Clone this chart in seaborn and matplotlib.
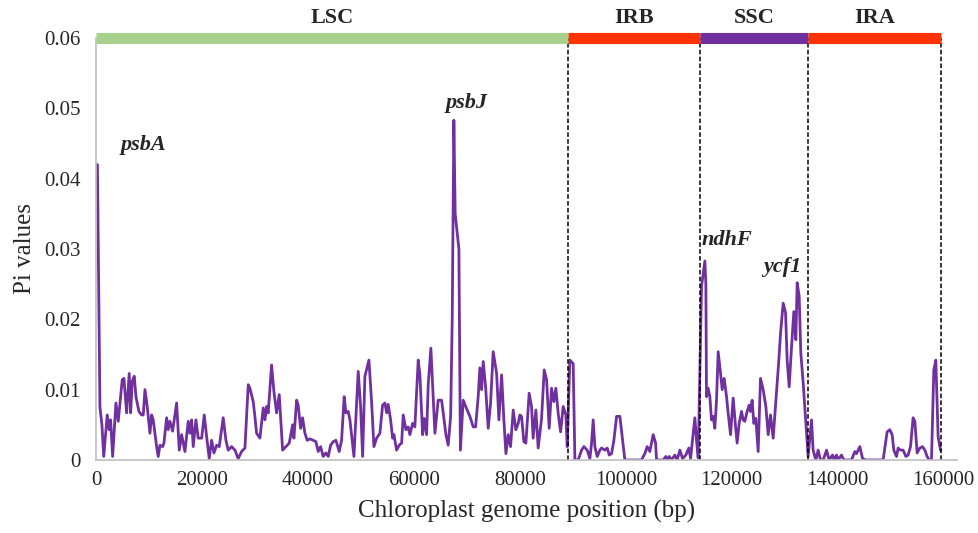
import numpy as np
import pandas as pd
import matplotlib
matplotlib.use("Agg")
import matplotlib.pyplot as plt
import seaborn as sns

# sliding window positions (bp) and nucleotide diversity
position = [280, 755, 1130, 1470, 2130, 2510, 2770, 3150, 3770, 4210,
            4960, 5280, 5790, 6280, 6550, 6850, 7230, 7550, 8110, 8620,
            8930, 9250, 9680, 10190, 10510, 10810, 11450, 11760, 12080, 12590,
            12830, 13340, 13640, 13960, 14470, 15230, 15720, 16170, 16790, 17420,
            17740, 18060, 18360, 18870, 19300, 19950, 20440, 20890, 21380, 21830,
            22270, 22780, 23270, 24020, 24530, 24960, 25610, 26230, 26850, 27490,
            28120, 28740, 29060, 29680, 30000, 30320, 30950, 31570, 31890, 32210,
            32510, 33150, 33590, 34100, 34590, 35230, 35850, 36480, 37120, 37360,
            37870, 38170, 38630, 39000, 39440, 39870, 40380, 41000, 41510, 41950,
            42400, 42890, 43400, 43840, 44290, 44780, 45290, 45910, 46360, 46850,
            47170, 47610, 47930, 48360, 48690, 49500, 49950, 50330, 50760, 51520,
            52020, 52460, 52970, 53590, 54100, 54540, 54860, 55160, 55610, 55990,
            56240, 56740, 57230, 57690, 57990, 58500, 58930, 59250, 59760, 60190,
            60820, 61140, 61650, 61950, 62400, 62710, 63210, 63650, 63970, 64590,
            65230, 65540, 66050, 66480, 66940, 67240, 67550, 67800, 68500, 68780,
            69310, 69950, 70570, 71200, 71650, 72140, 72460, 72780, 73090, 73540,
            74030, 74480, 74970, 75620, 76050, 76560, 76990, 77370, 77810, 78250,
            78750, 79250, 79690, 80010, 80330, 80760, 81140, 81760, 82210, 82510,
            83030, 83460, 84100, 84600, 85050, 85540, 85990, 86420, 86800, 87240,
            87690, 88180, 88690, 88940, 89440, 90070, 90390, 91010, 91650, 92090,
            92710, 93220, 93540, 93840, 94160, 94600, 95110, 95430, 96050, 96490,
            96870, 97310, 97750, 98260, 98880, 99390, 99820, 102960, 103590, 104030,
            104540, 105160, 105620, 105800, 107060, 107560, 107810, 108190, 108630, 109260,
            109690, 110200, 110710, 111330, 111900, 112220, 112590, 113030, 113350, 113660,
            114290, 114920, 115110, 115230, 115540, 115860, 116170, 116480, 116800, 117120,
            117430, 117880, 118190, 118560, 119010, 119320, 119770, 120260, 120710, 121010,
            121390, 121840, 122150, 122460, 122900, 123280, 123540, 123840, 124160, 124540,
            124980, 125420, 125920, 126430, 126870, 127310, 127810, 128450, 128880, 129200,
            129700, 130150, 130450, 130830, 131280, 131710, 132090, 132340, 132720, 133030,
            133470, 133980, 134410, 135050, 135350, 135860, 136300, 136750, 137250, 137890,
            138370, 139010, 139310, 139760, 140070, 140700, 141150, 142600, 143220, 143540,
            144170, 144680, 145300, 148560, 149320, 149830, 150260, 150580, 151090, 151390,
            151850, 152340, 152850, 153280, 153730, 154220, 154550, 154980, 155490, 156000,
            156430, 156870, 157240, 157690, 158130, 158510, 158940, 159390]

pi = [0.0420, 0.0075, 0.0050, 0.0005, 0.0064, 0.0043, 0.0057, 0.0005, 0.0081, 0.0055,
      0.0114, 0.0116, 0.0067, 0.0123, 0.0067, 0.0112, 0.0119, 0.0090, 0.0069, 0.0064,
      0.0064, 0.0100, 0.0076, 0.0038, 0.0064, 0.0057, 0.0019, 0.0005, 0.0021, 0.0019,
      0.0024, 0.0060, 0.0043, 0.0055, 0.0041, 0.0081, 0.0014, 0.0036, 0.0012, 0.0055,
      0.0038, 0.0057, 0.0019, 0.0057, 0.0031, 0.0031, 0.0064, 0.0033, 0.0002, 0.0028,
      0.0010, 0.0021, 0.0019, 0.0060, 0.0028, 0.0014, 0.0019, 0.0014, 0.0002, 0.0012,
      0.0017, 0.0107, 0.0102, 0.0083, 0.0062, 0.0038, 0.0031, 0.0074, 0.0057, 0.0076,
      0.0067, 0.0135, 0.0097, 0.0067, 0.0093, 0.0014, 0.0019, 0.0024, 0.0050, 0.0031,
      0.0085, 0.0078, 0.0045, 0.0060, 0.0038, 0.0028, 0.0030, 0.0028, 0.0026, 0.0012,
      0.0019, 0.0005, 0.0010, 0.0005, 0.0021, 0.0026, 0.0028, 0.0012, 0.0028, 0.0090,
      0.0067, 0.0069, 0.0057, 0.0028, 0.0005, 0.0126, 0.0076, 0.0005, 0.0119, 0.0142,
      0.0083, 0.0019, 0.0031, 0.0038, 0.0078, 0.0081, 0.0067, 0.0079, 0.0057, 0.0031,
      0.0036, 0.0014, 0.0021, 0.0024, 0.0064, 0.0043, 0.0047, 0.0036, 0.0052, 0.0047,
      0.0142, 0.0121, 0.0036, 0.0059, 0.0036, 0.0107, 0.0159, 0.0090, 0.0038, 0.0085,
      0.0085, 0.0067, 0.0036, 0.0021, 0.0062, 0.0200, 0.0483, 0.0350, 0.0300, 0.0014,
      0.0085, 0.0073, 0.0062, 0.0047, 0.0047, 0.0090, 0.0131, 0.0100, 0.0140, 0.0104,
      0.0045, 0.0081, 0.0154, 0.0123, 0.0057, 0.0121, 0.0057, 0.0009, 0.0036, 0.0019,
      0.0071, 0.0043, 0.0052, 0.0064, 0.0062, 0.0026, 0.0024, 0.0095, 0.0076, 0.0031,
      0.0071, 0.0017, 0.0059, 0.0128, 0.0114, 0.0045, 0.0102, 0.0083, 0.0102, 0.0066,
      0.0040, 0.0076, 0.0064, 0.0019, 0.0142, 0.0137, 0.0000, 0.0000, 0.0014, 0.0019,
      0.0014, 0.0002, 0.0024, 0.0057, 0.0019, 0.0005, 0.0014, 0.0017, 0.0014, 0.0017,
      0.0007, 0.0009, 0.0028, 0.0062, 0.0062, 0.0028, 0.0000, 0.0000, 0.0009, 0.0019,
      0.0012, 0.0036, 0.0024, 0.0000, 0.0000, 0.0005, 0.0000, 0.0005, 0.0000, 0.0007,
      0.0000, 0.0014, 0.0002, 0.0007, 0.0017, 0.0002, 0.0028, 0.0060, 0.0028, 0.0003,
      0.0247, 0.0283, 0.0250, 0.0090, 0.0102, 0.0090, 0.0057, 0.0062, 0.0045, 0.0085,
      0.0154, 0.0123, 0.0100, 0.0116, 0.0090, 0.0066, 0.0036, 0.0088, 0.0048, 0.0024,
      0.0052, 0.0069, 0.0057, 0.0055, 0.0069, 0.0078, 0.0069, 0.0085, 0.0052, 0.0059,
      0.0012, 0.0116, 0.0100, 0.0076, 0.0036, 0.0064, 0.0031, 0.0097, 0.0142, 0.0180,
      0.0223, 0.0209, 0.0142, 0.0104, 0.0161, 0.0211, 0.0171, 0.0252, 0.0233, 0.0152,
      0.0110, 0.0052, 0.0005, 0.0057, 0.0014, 0.0000, 0.0014, 0.0000, 0.0000, 0.0014,
      0.0000, 0.0007, 0.0000, 0.0007, 0.0000, 0.0007, 0.0000, 0.0000, 0.0012, 0.0009,
      0.0019, 0.0002, 0.0000, 0.0000, 0.0040, 0.0043, 0.0036, 0.0014, 0.0005, 0.0017,
      0.0014, 0.0014, 0.0005, 0.0007, 0.0019, 0.0060, 0.0055, 0.0010, 0.0017, 0.0019,
      0.0014, 0.0005, 0.0000, 0.0000, 0.0128, 0.0142, 0.0033, 0.0014]

# regions of the chloroplast genome
region_names = ["LSC", "IRB", "SSC", "IRA"]
region_start = [0, 89100, 113950, 134400]
region_end = [89100, 113950, 134400, 159550]
region_colors = ["#a9d18e", "#ff3300", "#7030a0", "#ff3300"]

genes = ["psbA", "psbJ", "ndhF", "ycf1"]
gene_x = [8900, 70000, 119000, 129600]
gene_y = [0.0448, 0.0508, 0.0313, 0.0275]

df = pd.DataFrame({"pos": position, "pi": pi})

sns.set_style("white")
plt.rcParams["font.family"] = ["Liberation Serif", "DejaVu Serif"]

fig = plt.figure(figsize=(9.79, 5.33), dpi=100)
ax = fig.add_axes([0.098, 0.137, 0.8795, 0.7918])

sns.lineplot(data=df, x="pos", y="pi", color="#7030a0", linewidth=2.0, ax=ax)

# top bars and dashed boundaries
for name, s, e, c in zip(region_names, region_start, region_end, region_colors):
    ax.hlines(0.06, s, e, colors=c, linewidth=8, clip_on=False, zorder=5)
    ax.text((s + e) / 2, 0.0628, name, ha="center", va="center",
            fontsize=16, fontweight="bold")
for b in region_end:
    ax.vlines(b, 0, 0.06, colors="black", linestyles=(0, (3, 1.5)), linewidth=1.1)

for g, gx, gy in zip(genes, gene_x, gene_y):
    ax.text(gx, gy, g, ha="center", va="center", fontsize=16,
            fontweight="bold", style="italic")

ax.set_xlim(0, 162500)
ax.set_ylim(0, 0.06)
ax.set_xticks(np.arange(0, 160001, 20000))
ax.set_xticklabels([str(v) for v in range(0, 160001, 20000)])
ax.set_yticks([0, 0.01, 0.02, 0.03, 0.04, 0.05, 0.06])
ax.set_yticklabels(["0", "0.01", "0.02", "0.03", "0.04", "0.05", "0.06"])
ax.tick_params(axis="both", length=0, labelsize=15)
ax.tick_params(axis="y", pad=11)
ax.tick_params(axis="x", pad=8)

ax.set_xlabel("Chloroplast genome position (bp)", fontsize=18, labelpad=7)
ax.set_ylabel("Pi values", fontsize=18, labelpad=6)

sns.despine(ax=ax, top=True, right=True)
for sp in ["left", "bottom"]:
    ax.spines[sp].set_color("#bfbfbf")
    ax.spines[sp].set_linewidth(1.2)

fig.savefig("out.png", dpi=100)
